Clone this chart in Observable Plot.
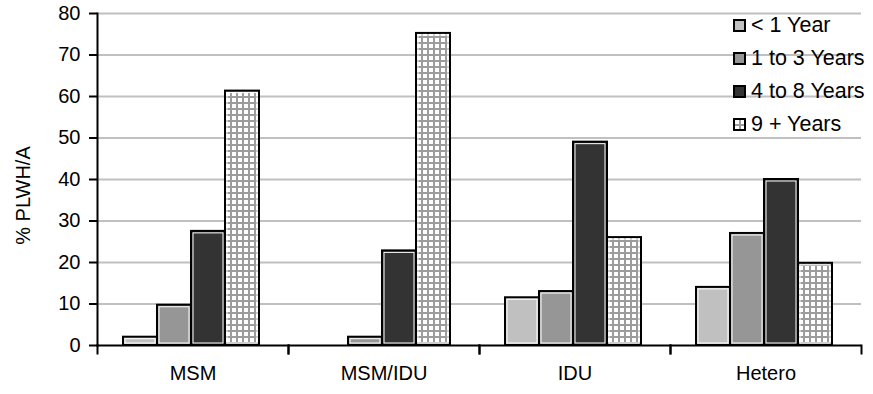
<!DOCTYPE html>
<html>
<head>
<meta charset="utf-8">
<script src="https://cdn.jsdelivr.net/npm/d3@7"></script>
<script src="https://cdn.jsdelivr.net/npm/@observablehq/plot@0.6"></script>
<style>
  html, body { margin: 0; padding: 0; background: #fff; }
  #wrap { position: relative; width: 873px; height: 394px; font-family: "Liberation Sans", Arial, sans-serif; }
  #legend { position: absolute; left: 733px; top: 9px; }
  .row { height: 33px; display: flex; align-items: center; font-size: 21.5px; color: #000; white-space: nowrap; }
  .row svg { margin-right: 5px; flex: none; }
</style>
</head>
<body>
<svg width="0" height="0" style="position:absolute">
  <defs>
    <pattern id="grid" width="6" height="6" patternUnits="userSpaceOnUse">
      <rect width="6" height="6" fill="#fff"/>
      <path d="M0 1H6M1 0V6" stroke="#9c9c9c" stroke-width="2"/>
    </pattern>
  </defs>
</svg>
<div id="wrap"><div id="legend"></div></div>
<script>
// ---- data ----
const categories = ["MSM", "MSM/IDU", "IDU", "Hetero"];
const series = ["< 1 Year", "1 to 3 Years", "4 to 8 Years", "9 + Years"];
const lessThan1 = [2, 0, 11.5, 14];
const oneTo3 = [9.7, 2, 13, 27];
const fourTo8 = [27.5, 22.8, 49, 40];
const ninePlus = [61.3, 75.2, 26, 19.8];
const yTicks = [0, 10, 20, 30, 40, 50, 60, 70, 80];
const yLabel = "% PLWH/A";

// ---- styles ----
const fills = ["#c0c0c0", "#969696", "#333333", "url(#grid)"];

const seriesValues = [lessThan1, oneTo3, fourTo8, ninePlus];
const rows = [];
categories.forEach((c, i) => {
  series.forEach((s, j) => rows.push({category: c, series: s, value: seriesValues[j][i]}));
});

const plotH = 394 - 13 - 49;

const chart = Plot.plot({
  width: 873,
  height: 394,
  marginLeft: 95,
  marginRight: 11,
  marginTop: 13,
  marginBottom: 49,
  style: {fontFamily: "'Liberation Sans', Arial, sans-serif", fontSize: "20px", color: "#000", background: "#fff"},
  fx: {domain: categories, padding: 0},
  x: {domain: series, paddingInner: 0, paddingOuter: 0.78, align: 0.47},
  y: {domain: [0, 80]},
  color: {domain: series, range: fills},
  marks: [
    Plot.gridY(yTicks.filter(d => d > 0), {stroke: "#c0c0c0", strokeOpacity: 1, strokeWidth: 2}),
    Plot.barY(rows, {fx: "category", x: "series", y: "value", fill: "series", stroke: "#000", strokeWidth: 2}),
    Plot.barY(rows.filter(d => d.value > 1), {fx: "category", x: "series", y: "value", inset: 2, fill: "none", stroke: "#fff", strokeWidth: 1}),
    Plot.ruleY([0], {stroke: "#000", strokeWidth: 2}),
    Plot.frame({anchor: "left", fx: () => categories[0], stroke: "#000", strokeWidth: 2}),
    Plot.frame({anchor: "left", insetTop: plotH, insetBottom: -8, stroke: "#000", strokeWidth: 2}),
    Plot.frame({anchor: "right", insetTop: plotH, insetBottom: -8, stroke: "#000", strokeWidth: 2}),
    Plot.axisX({ticks: [], label: null}),
    Plot.axisY(yTicks, {anchor: "left", tickSize: 8, tickPadding: 9, strokeWidth: 2, label: null, fontSize: 20}),
    Plot.axisFx({anchor: "bottom", tickSize: 0, tickPadding: 20, label: null, fontSize: 20}),
    Plot.text([yLabel], {fx: () => categories[0], text: d => d, frameAnchor: "left", textAnchor: "middle", rotate: -90, dx: -74, dy: 16, fontSize: 20})
  ]
});
document.getElementById("wrap").prepend(chart);

// ---- legend ----
const legend = document.getElementById("legend");
series.forEach((s, j) => {
  const row = document.createElement("div");
  row.className = "row";
  row.innerHTML = `<svg width="13" height="13"><rect x="1" y="1" width="11" height="11" fill="${fills[j]}" stroke="#000" stroke-width="2"/></svg><span>${s}</span>`;
  legend.appendChild(row);
});
</script>
</body>
</html>
